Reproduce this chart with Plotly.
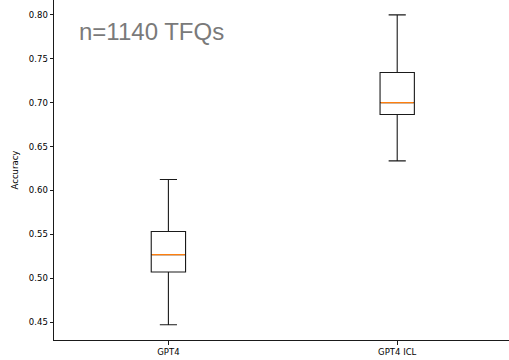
import plotly.graph_objects as go

# Data
categories = ["GPT4", "GPT4 ICL"]
positions = [1, 2]
q1_vals = [0.507, 0.6865]
median_vals = [0.5267, 0.700]
q3_vals = [0.5532, 0.7343]
lower_whisker = [0.4469, 0.6337]
upper_whisker = [0.6125, 0.800]
y_ticks = [0.45, 0.50, 0.55, 0.60, 0.65, 0.70, 0.75, 0.80]
annotation_text = "n=1140 TFQs"

box_width = 0.15

fig = go.Figure()
for i, cat in enumerate(categories):
    fig.add_trace(go.Box(
        x=[positions[i]],
        q1=[q1_vals[i]], median=[median_vals[i]], q3=[q3_vals[i]],
        lowerfence=[lower_whisker[i]], upperfence=[upper_whisker[i]],
        width=box_width, whiskerwidth=0.5,
        line=dict(color="#1a1a1a", width=1.1),
        fillcolor="rgba(0,0,0,0)",
        boxpoints=False, name=cat, showlegend=False, hoverinfo="skip",
    ))
    # orange median line (matplotlib style)
    fig.add_trace(go.Scatter(
        x=[positions[i] - box_width / 2 + 0.003, positions[i] + box_width / 2 - 0.003],
        y=[median_vals[i], median_vals[i]],
        mode="lines", line=dict(color="#ff7f0e", width=1.3),
        showlegend=False, hoverinfo="skip",
    ))

fig.add_annotation(
    x=0.6, y=0.781, xref="x", yref="y",
    text=annotation_text, showarrow=False,
    xanchor="left", yanchor="middle",
    font=dict(family="Liberation Sans, Arial, sans-serif", size=24, color="#7a7a7a"),
)

fig.update_layout(
    width=509, height=360,
    margin=dict(l=54, r=0, t=0, b=20, autoexpand=False),
    plot_bgcolor="white", paper_bgcolor="white",
    font=dict(family="DejaVu Sans, sans-serif", size=8.5, color="#000000"),
    showlegend=False,
)
fig.update_xaxes(
    range=[0.5, 2.4886], tickmode="array", tickvals=positions, ticktext=categories,
    showline=True, linecolor="#1a1a1a", linewidth=1,
    ticks="outside", ticklen=3.5, tickcolor="#1a1a1a", tickwidth=0.8,
    showgrid=False, zeroline=False, automargin=False,
)
fig.update_yaxes(
    range=[0.4295, 0.817], tickmode="array", tickvals=y_ticks,
    tickformat=".2f",
    showline=True, linecolor="#1a1a1a", linewidth=1,
    ticks="outside", ticklen=3.5, tickcolor="#1a1a1a", tickwidth=0.8,
    showgrid=False, zeroline=False, automargin=False,
    title=dict(text="Accuracy", standoff=8, font=dict(size=8.5)),
)

fig.write_html(
    "out.html",
    config={"displayModeBar": False},
    post_script="document.body.style.margin='0';document.body.style.padding='0';",
)
